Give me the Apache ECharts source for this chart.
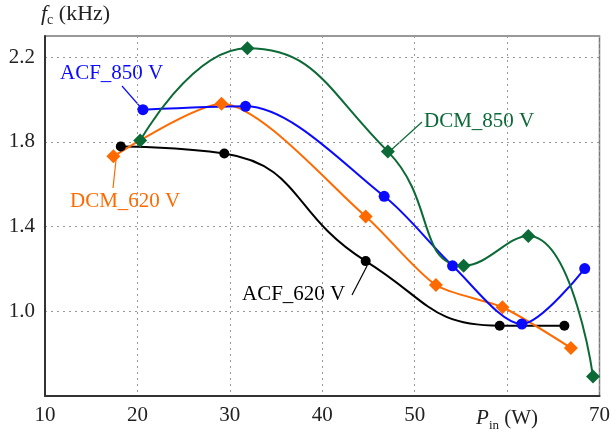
<!DOCTYPE html>
<html>
<head>
<meta charset="utf-8">
<script src="https://cdn.jsdelivr.net/npm/echarts@6/dist/echarts.min.js"></script>
<style>
  html, body { margin: 0; padding: 0; background: #fff; }
  #chart { width: 613px; height: 439px; }
</style>
</head>
<body>
<div id="chart"></div>
<script>
  // P_in (W) vs f_c (kHz)
  var acf620 = [[18.2, 1.778], [29.4, 1.745], [44.7, 1.237], [59.2, 0.932], [66.2, 0.932]];
  var acf850 = [[20.6, 1.952], [31.7, 1.968], [46.7, 1.543], [54.1, 1.215], [61.6, 0.940], [68.4, 1.202]];
  var dcm620 = [[17.4, 1.732], [29.1, 1.980], [44.7, 1.448], [52.3, 1.124], [59.5, 1.019], [66.9, 0.827]];
  var dcm850 = [[20.3, 1.806], [31.9, 2.242], [47.1, 1.754], [55.3, 1.215], [62.3, 1.356], [69.3, 0.692]];

  var xTicks = [10, 20, 30, 40, 50, 60, 70];
  var yTicks = [1.0, 1.4, 1.8, 2.2];

  var font = '"Liberation Serif", "DejaVu Serif", serif';
  var cBlack = '#000000', cBlue = '#0a0aff', cOrange = '#ff6a00', cGreen = '#0b6a36';

  var chart = echarts.init(document.getElementById('chart'));

  function series(name, data, color, symbol, size, smooth) {
    return {
      name: name,
      type: 'line',
      data: data,
      smooth: smooth,
      symbol: symbol,
      symbolSize: size,
      showAllSymbol: true,
      lineStyle: { color: color, width: 2 },
      itemStyle: { color: color },
      z: 3
    };
  }

  chart.setOption({
    animation: false,
    backgroundColor: '#fff',
    grid: {
      left: 45, right: 11, top: 36, bottom: 43,
      show: true, borderColor: '#777', borderWidth: 1.5
    },
    xAxis: {
      type: 'value',
      min: 10, max: 70, interval: 10,
      axisLine: { show: true, lineStyle: { color: '#333', width: 2 } },
      axisTick: { show: false },
      splitLine: { show: true, lineStyle: { color: '#999', type: [2, 4], width: 1 } },
      axisLabel: {
        margin: 9,
        color: '#222',
        fontFamily: font,
        fontSize: 21,
        formatter: function (v) {
          if (v === 60) return '{i|P}{s|in}{n| (W)}';
          return xTicks.indexOf(v) >= 0 ? String(v) : '';
        },
        rich: {
          i: { fontFamily: font, fontStyle: 'italic', fontSize: 21, color: '#222' },
          s: { fontFamily: font, fontSize: 13, color: '#222', padding: [14, 0, 0, 0] },
          n: { fontFamily: font, fontSize: 21, color: '#222' }
        }
      }
    },
    yAxis: {
      type: 'value',
      min: 0.6, max: 2.3, interval: 0.4,
      axisLine: { show: true, lineStyle: { color: '#333', width: 2 } },
      axisTick: { show: false },
      splitLine: { show: true, lineStyle: { color: '#999', type: [2, 4], width: 1 } },
      axisLabel: {
        margin: 10,
        color: '#222',
        fontFamily: font,
        fontSize: 21,
        showMinLabel: false,
        showMaxLabel: false,
        formatter: function (v) {
          var r = Math.round(v * 10) / 10;
          return yTicks.indexOf(r) >= 0 ? r.toFixed(1) : '';
        }
      }
    },
    graphic: [
      {
        type: 'text', left: 41, top: 3,
        style: {
          text: '{i|f}{s|c}{n| (kHz)}',
          rich: {
            i: { fontFamily: font, fontStyle: 'italic', fontSize: 22, fill: '#222' },
            s: { fontFamily: font, fontSize: 14, fill: '#222', padding: [12, 0, 0, 0] },
            n: { fontFamily: font, fontSize: 22, fill: '#222' }
          }
        }
      },
      // annotations
      { type: 'text', left: 60, top: 63, style: { text: 'ACF_850 V', fill: cBlue, font: '21px ' + font } },
      { type: 'line', shape: { x1: 122, y1: 86, x2: 143, y2: 110 }, style: { stroke: cBlue, lineWidth: 1.2 } },
      { type: 'text', left: 424, top: 111, style: { text: 'DCM_850 V', fill: cGreen, font: '21px ' + font } },
      { type: 'line', shape: { x1: 422, y1: 122, x2: 390, y2: 151 }, style: { stroke: cGreen, lineWidth: 1.2 } },
      { type: 'text', left: 70, top: 191, style: { text: 'DCM_620 V', fill: cOrange, font: '21px ' + font } },
      { type: 'line', shape: { x1: 113, y1: 188, x2: 116, y2: 160 }, style: { stroke: cOrange, lineWidth: 1.2 } },
      { type: 'text', left: 242, top: 284, style: { text: 'ACF_620 V', fill: cBlack, font: '21px ' + font } },
      { type: 'line', shape: { x1: 352, y1: 295, x2: 367, y2: 266 }, style: { stroke: cBlack, lineWidth: 1.2 } }
    ],
    series: [
      series('ACF_620 V', acf620, cBlack, 'circle', 10, 0.5),
      series('DCM_620 V', dcm620, cOrange, 'diamond', 14, 0.25),
      series('ACF_850 V', acf850, cBlue, 'circle', 11, 0.3),
      series('DCM_850 V', dcm850, cGreen, 'diamond', 14, 0.5)
    ]
  });
</script>
</body>
</html>
